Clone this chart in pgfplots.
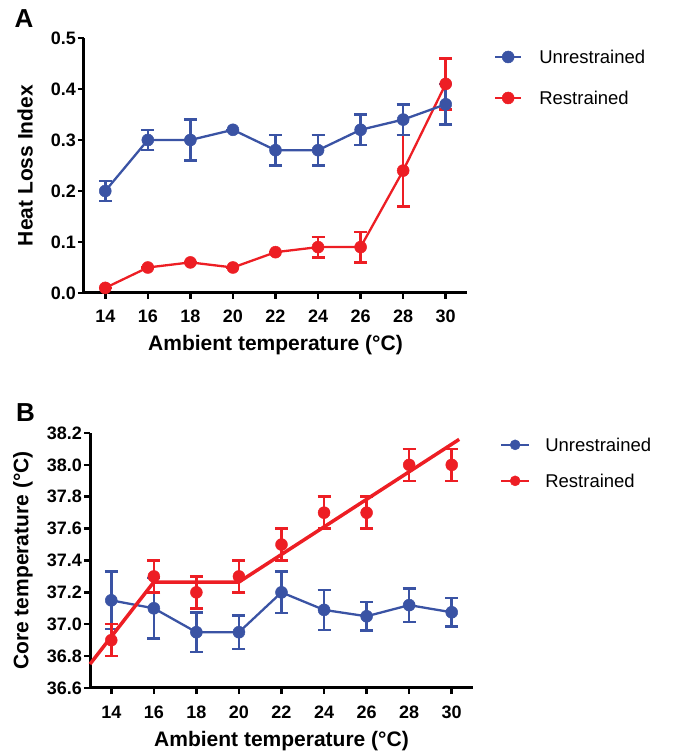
\documentclass[border=0pt]{standalone}
\usepackage{fontspec}
\setmainfont{Liberation Sans}
\usepackage{pgfplots}
\usepackage{pgfplotstable}
\pgfplotsset{compat=1.18}
\definecolor{cblue}{RGB}{58,83,164}
\definecolor{cred}{RGB}{237,30,36}

\pgfplotstableread{
x y e
14 0.20 0.02
16 0.30 0.02
18 0.30 0.04
20 0.32 0.00
22 0.28 0.03
24 0.28 0.03
26 0.32 0.03
28 0.34 0.03
30 0.37 0.04
}\hliU
\pgfplotstableread{
x y e
14 0.01 0.00
16 0.05 0.00
18 0.06 0.00
20 0.05 0.00
22 0.08 0.00
24 0.09 0.02
26 0.09 0.03
28 0.24 0.07
30 0.41 0.05
}\hliR
\pgfplotstableread{
x y e
14 37.15 0.18
16 37.10 0.19
18 36.95 0.125
20 36.95 0.105
22 37.20 0.13
24 37.09 0.125
26 37.05 0.09
28 37.12 0.105
30 37.075 0.09
}\coreU
\pgfplotstableread{
x y e
14 36.9 0.1
16 37.3 0.1
18 37.2 0.1
20 37.3 0.1
22 37.5 0.1
24 37.7 0.1
26 37.7 0.1
28 38.0 0.1
30 38.0 0.1
}\coreR

\pgfplotsset{
  panel/.style={
    scale only axis, width=383pt, height=255pt,
    xmin=13, xmax=31, clip=false,
    axis x line*=bottom, axis y line*=left,
    axis line style={line width=3pt, black},
    every tick/.append style={line width=2.5pt, black},
    tick align=outside, major tick length=6pt,
    xtick={14,16,...,30},
    /pgf/number format/assume math mode=true,
    tick label style={font=\bfseries\fontsize{18}{18}\selectfont},
    xticklabel style={anchor=base, inner sep=0pt, yshift=-24pt},
    yticklabel style={anchor=east, inner sep=0pt, xshift=-2pt,
      /pgf/number format/.cd, fixed, fixed zerofill, precision=1},
    every axis x label/.style={at={(axis description cs:0.5,0)}, yshift=-58pt, anchor=base,
      font=\bfseries\fontsize{21}{21}\selectfont},
    every axis y label/.style={at={(axis description cs:0,0.5)}, rotate=90, anchor=center,
      font=\bfseries\fontsize{21}{21}\selectfont},
    legend style={draw=none, fill=none, inner sep=0pt, outer sep=0pt,
      font=\fontsize{18.5}{18.5}\selectfont,
      nodes={inner sep=0pt, text height=13.5pt, text depth=0pt, anchor=west},
      legend cell align=left},
  },
  dataline/.style={color=#1, line width=2.3pt, mark=*, mark size=6pt,
    mark options={solid, fill=#1, draw=#1, line width=0.5pt}},
  errs/.style={draw=none, mark=none, forget plot,
    error bars/.cd, y dir=both, y explicit,
    error bar style={line width=2.5pt, color=#1},
    error mark options={rotate=90, mark size=6.5pt, line width=2.5pt, color=#1}},
}

\begin{document}
\begin{tikzpicture}
\path[use as bounding box] (0,0) rectangle (673pt,752pt);

% Panel A
\begin{axis}[panel, at={(84pt,459pt)}, anchor=south west,
  ymin=0, ymax=0.5, ytick={0,0.1,...,0.5},
  xlabel={Ambient temperature (°C)},
  ylabel={Heat Loss Index},
  y label style={at={(axis description cs:-0.154,0.5)}},
  legend style={at={(axis description cs:1.0705,0.952)}, anchor=north west, row sep=27.5pt, column sep=17pt},
  legend image code/.code={\draw[mark repeat=2, mark phase=2, #1] plot coordinates {(0pt,0pt) (13pt,0pt) (26pt,0pt)};}]
\addlegendimage{dataline=cblue}
\addlegendentry{Unrestrained}
\addlegendimage{dataline=cred}
\addlegendentry{Restrained}
\addplot[errs=cred] table[x=x, y=y, y error=e] {\hliR};
\addplot[dataline=cred, forget plot] table[x=x, y=y] {\hliR};
\addplot[errs=cblue] table[x=x, y=y, y error=e] {\hliU};
\addplot[dataline=cblue, forget plot] table[x=x, y=y] {\hliU};
\end{axis}

% Panel B
\begin{axis}[panel, at={(90pt,64pt)}, anchor=south west,
  ymin=36.6, ymax=38.2, ytick={36.6,36.8,...,38.21},
  xlabel={Ambient temperature (°C)},
  ylabel={Core temperature (°C)},
  y label style={at={(axis description cs:-0.175,0.5)}},
  legend style={at={(axis description cs:1.0705,0.980)}, anchor=north west, row sep=22.5pt, column sep=15pt},
  legend image code/.code={\draw[mark repeat=2, mark phase=2, #1, mark size=5pt] plot coordinates {(0pt,0pt) (14pt,0pt) (28pt,0pt)};}]
\addlegendimage{dataline=cblue}
\addlegendentry{Unrestrained}
\addlegendimage{dataline=cred}
\addlegendentry{Restrained}
\addplot[errs=cblue] table[x=x, y=y, y error=e] {\coreU};
\addplot[dataline=cblue, forget plot] table[x=x, y=y] {\coreU};
\addplot[errs=cred] table[x=x, y=y, y error=e] {\coreR};
\addplot[only marks, mark=*, mark size=6pt, color=cred, forget plot] table[x=x, y=y] {\coreR};
\addplot[cred, line width=3.5pt, forget plot] coordinates {(13,36.75) (16,37.265) (20,37.265) (30.35,38.16)};
\end{axis}

\node[font=\bfseries\fontsize{26}{26}\selectfont] at (24pt,733pt) {A};
\node[font=\bfseries\fontsize{26}{26}\selectfont] at (25.5pt,339.5pt) {B};
\end{tikzpicture}
\end{document}
